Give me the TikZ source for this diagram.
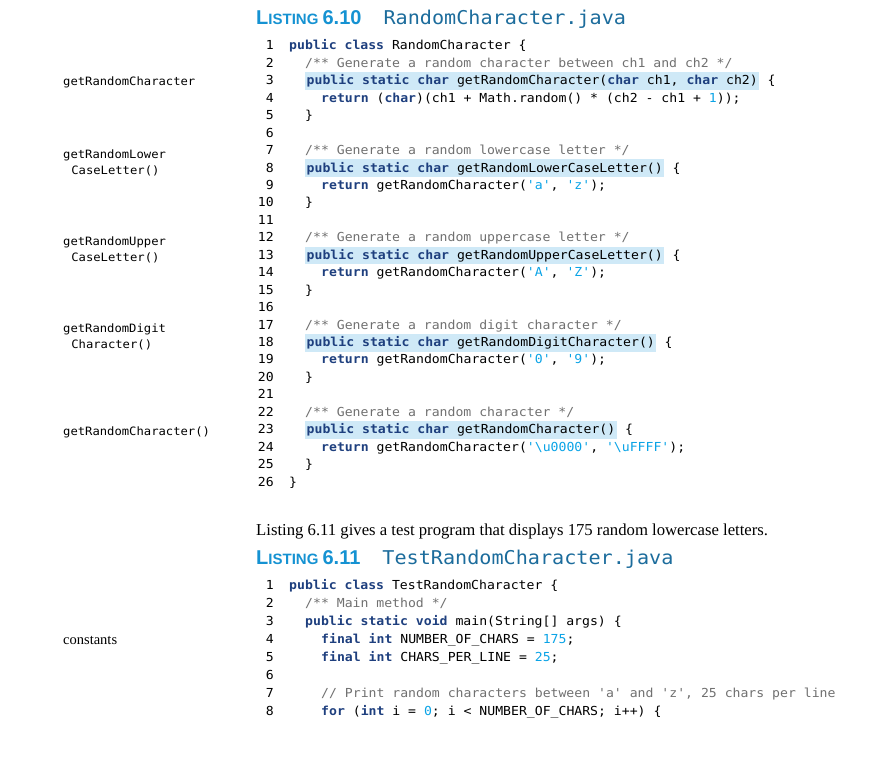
\documentclass[tikz,border=0pt]{standalone}
\usepackage{fontspec}
\setmainfont{Liberation Serif}
\newfontfamily\cf[FakeStretch=1.06]{DejaVu Sans Mono}
\newfontfamily\tf{Liberation Sans}
\definecolor{kwc}{HTML}{1E3F7E}
\definecolor{numc}{HTML}{0AA3E6}
\definecolor{cmc}{HTML}{707070}
\definecolor{hlc}{HTML}{CFE9F7}
\definecolor{ttl}{HTML}{1592D2}
\definecolor{fnc}{HTML}{1C6C9C}
\newcommand\kw[1]{{\bfseries\color{kwc}#1}}
\newcommand\nm[1]{{\color{numc}#1}}
\newcommand\cm[1]{{\color{cmc}#1}}
\newcommand\bs{\textbackslash}
\begin{document}
\begin{tikzpicture}[x=1pt,y=-1pt,
  code/.style={anchor=base west,inner sep=0pt,font=\cf\fontsize{12.4}{14}\selectfont,text=black},
  hl/.style={code,fill=hlc,inner xsep=1.5pt,inner ysep=2.5pt},
  lno/.style={anchor=base east,inner sep=0pt,font=\cf\fontsize{12.4}{14}\selectfont},
  side/.style={anchor=base west,inner sep=0pt,font=\cf\fontsize{11.5}{16}\selectfont,align=left},
  title/.style={anchor=base west,inner sep=0pt}]
\useasboundingbox (0,0) rectangle (894,757);
% Listing 6.10 title
\node[title] (t1) at (256,25) {\tf\bfseries\color{ttl}\fontsize{20}{22}\selectfont L\fontsize{15}{16}\selectfont ISTING \fontsize{20}{22}\selectfont 6.10\hspace{22pt}\mdseries\cf\fontsize{19}{22}\selectfont\color{fnc}RandomCharacter.java};
% line numbers
\foreach \n in {1,...,26} {
  \node[lno] (n\n) at (274,{46+4+(\n-1)*17.44}) {\n};
}
\def\Y#1{{50+(#1-1)*17.44}}
\node[code] (c1) at (289,\Y{1}) {\kw{public class} RandomCharacter \{};
\node[code] (c2) at (305,\Y{2}) {\cm{/** Generate a random character between ch1 and ch2 */}};
\node[hl] (c3) at (305,\Y{3}) {\kw{public static char} getRandomCharacter(\kw{char} ch1, \kw{char} ch2)};
\node[code] (c3b) at (c3.base east) {\ \{};
\node[code] (c4) at (321,\Y{4}) {\kw{return} (\kw{char})(ch1 + Math.random() * (ch2 - ch1 + \nm{1}));};
\node[code] (c5) at (305,\Y{5}) {\}};
\node[code] (c7) at (305,\Y{7}) {\cm{/** Generate a random lowercase letter */}};
\node[hl] (c8) at (305,\Y{8}) {\kw{public static char} getRandomLowerCaseLetter()};
\node[code] (c8b) at (c8.base east) {\ \{};
\node[code] (c9) at (321,\Y{9}) {\kw{return} getRandomCharacter(\nm{'a'}, \nm{'z'});};
\node[code] (c10) at (305,\Y{10}) {\}};
\node[code] (c12) at (305,\Y{12}) {\cm{/** Generate a random uppercase letter */}};
\node[hl] (c13) at (305,\Y{13}) {\kw{public static char} getRandomUpperCaseLetter()};
\node[code] (c13b) at (c13.base east) {\ \{};
\node[code] (c14) at (321,\Y{14}) {\kw{return} getRandomCharacter(\nm{'A'}, \nm{'Z'});};
\node[code] (c15) at (305,\Y{15}) {\}};
\node[code] (c17) at (305,\Y{17}) {\cm{/** Generate a random digit character */}};
\node[hl] (c18) at (305,\Y{18}) {\kw{public static char} getRandomDigitCharacter()};
\node[code] (c18b) at (c18.base east) {\ \{};
\node[code] (c19) at (321,\Y{19}) {\kw{return} getRandomCharacter(\nm{'0'}, \nm{'9'});};
\node[code] (c20) at (305,\Y{20}) {\}};
\node[code] (c22) at (305,\Y{22}) {\cm{/** Generate a random character */}};
\node[hl] (c23) at (305,\Y{23}) {\kw{public static char} getRandomCharacter()};
\node[code] (c23b) at (c23.base east) {\ \{};
\node[code] (c24) at (321,\Y{24}) {\kw{return} getRandomCharacter(\nm{'\bs u0000'}, \nm{'\bs uFFFF'});};
\node[code] (c25) at (305,\Y{25}) {\}};
\node[code] (c26) at (289,\Y{26}) {\}};
% side labels
\node[side] (s1) at (63,86) {getRandomCharacter};
\node[side] (s2) at (63,174) {getRandomLower\\\hspace*{1.3ex}CaseLetter()};
\node[side] (s3) at (63,261) {getRandomUpper\\\hspace*{1.3ex}CaseLetter()};
\node[side] (s4) at (63,348) {getRandomDigit\\\hspace*{1.3ex}Character()};
\node[side] (s5) at (63,435) {getRandomCharacter()};
% paragraph
\node[anchor=base west,inner sep=0pt,font=\fontsize{16.7}{18}\selectfont] (p) at (256,535) {Listing 6.11 gives a test program that displays 175 random lowercase letters.};
% Listing 6.11
\node[title] (t2) at (256,564) {\tf\bfseries\color{ttl}\fontsize{20}{22}\selectfont L\fontsize{15}{16}\selectfont ISTING \fontsize{20}{22}\selectfont 6.11\hspace{22pt}\mdseries\cf\fontsize{19}{22}\selectfont\color{fnc}TestRandomCharacter.java};
\def\Z#1{{589+(#1-1)*18.1}}
\foreach \n in {1,...,8} {
  \node[lno] (m\n) at (274,{589+(\n-1)*18.1}) {\n};
}
\node[code] (d1) at (289,\Z{1}) {\kw{public class} TestRandomCharacter \{};
\node[code] (d2) at (305,\Z{2}) {\cm{/** Main method */}};
\node[code] (d3) at (305,\Z{3}) {\kw{public static void} main(String[] args) \{};
\node[code] (d4) at (321,\Z{4}) {\kw{final int} NUMBER\_OF\_CHARS = \nm{175};};
\node[code] (d5) at (321,\Z{5}) {\kw{final int} CHARS\_PER\_LINE = \nm{25};};
\node[code] (d7) at (321,\Z{7}) {\cm{// Print random characters between 'a' and 'z', 25 chars per line}};
\node[code] (d8) at (321,\Z{8}) {\kw{for} (\kw{int} i = \nm{0}; i < NUMBER\_OF\_CHARS; i++) \{};
\node[anchor=base west,inner sep=0pt,font=\fontsize{14.5}{16}\selectfont] (s6) at (63,644) {constants};
\end{tikzpicture}
\end{document}
